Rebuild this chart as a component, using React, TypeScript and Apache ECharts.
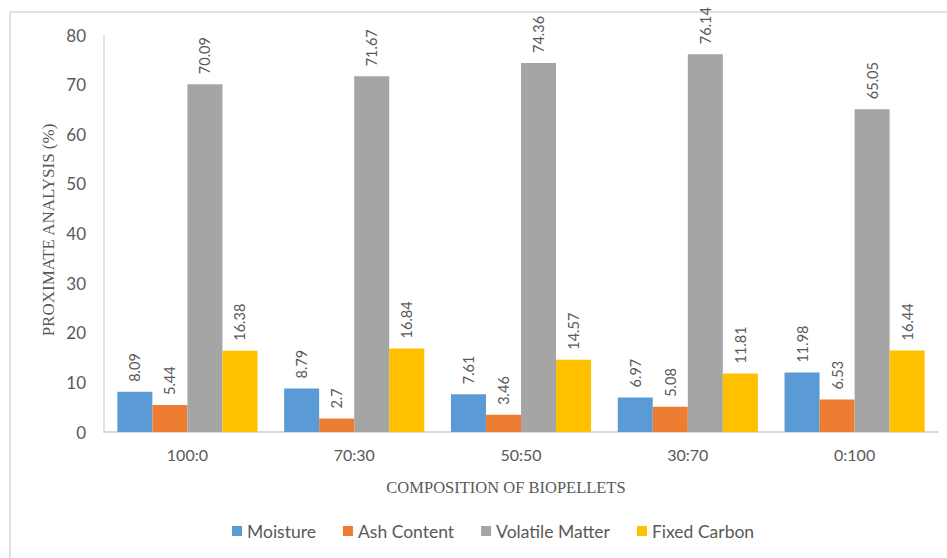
import React, { useEffect, useRef } from "react";
import * as echarts from "echarts";

const categories = ["100:0", "70:30", "50:50", "30:70", "0:100"];
const moisture = [8.09, 8.79, 7.61, 6.97, 11.98];
const ashContent = [5.44, 2.7, 3.46, 5.08, 6.53];
const volatileMatter = [70.09, 71.67, 74.36, 76.14, 65.05];
const fixedCarbon = [16.38, 16.84, 14.57, 11.81, 16.44];
const seriesNames = ["Moisture", "Ash Content", "Volatile Matter", "Fixed Carbon"];
const colors = ["#5B9BD5", "#ED7D31", "#A5A5A5", "#FFC000"];

const FONT = "Lato, 'Open Sans', sans-serif";
const SERIF = "'Liberation Serif', 'DejaVu Serif', serif";
const GRAY = "#595959";

export default function App() {
  const ref = useRef<HTMLDivElement>(null);
  useEffect(() => {
    if (!ref.current) return;
    const chart = echarts.init(ref.current, null, { renderer: "svg" });
    const data = [moisture, ashContent, volatileMatter, fixedCarbon];
    chart.setOption({
      animation: false,
      backgroundColor: "#ffffff",
      textStyle: { fontFamily: FONT },
      graphic: [
        {
          type: "rect",
          shape: { x: 10, y: 12, width: 960, height: 580 },
          style: { fill: "none", stroke: "#d9d9d9", lineWidth: 1.5 },
          silent: true,
        },
        {
          type: "text",
          x: 506,
          y: 487,
          style: {
            text: "COMPOSITION OF BIOPELLETS",
            fontFamily: SERIF,
            fontSize: 16.5,
            fill: GRAY,
            align: "center",
            verticalAlign: "middle",
          },
        },
        {
          type: "text",
          x: 48,
          y: 230,
          rotation: Math.PI / 2,
          style: {
            text: "PROXIMATE ANALYSIS (%)",
            fontFamily: SERIF,
            fontSize: 17,
            fill: GRAY,
            align: "center",
            verticalAlign: "middle",
          },
        },
      ],
      legend: {
        bottom: 13,
        left: 227,
        itemWidth: 10,
        itemHeight: 10,
        itemGap: 27,
        icon: "rect",
        textStyle: { fontFamily: FONT, fontSize: 17.5, color: GRAY },
        data: seriesNames,
      },
      grid: { left: 104, right: 9, top: 35, bottom: 126 },
      xAxis: {
        type: "category",
        data: categories,
        axisLine: { show: true, lineStyle: { color: "#d9d9d9", width: 2 } },
        axisTick: { show: false },
        axisLabel: { color: GRAY, fontSize: 16, margin: 14, fontFamily: FONT },
      },
      yAxis: {
        type: "value",
        min: 0,
        max: 80,
        interval: 10,
        splitLine: { show: false },
        axisLine: { show: true, lineStyle: { color: "#d9d9d9", width: 1.5 } },
        axisTick: { show: false },
        axisLabel: { color: GRAY, fontSize: 17, margin: 18, fontFamily: FONT },
      },
      series: seriesNames.map((name, i) => ({
        name,
        type: "bar",
        data: data[i],
        barGap: "0%",
        barCategoryGap: "16%",
        itemStyle: { color: colors[i] },
        label: {
          show: true,
          position: "top",
          rotate: 90,
          align: "left",
          verticalAlign: "middle",
          distance: 10,
          color: GRAY,
          fontSize: 14.5,
          fontFamily: FONT,
        },
      })),
    });
    return () => chart.dispose();
  }, []);
  return (
    <div
      ref={ref}
      style={{ position: "fixed", left: 0, top: 0, width: 947, height: 558 }}
    />
  );
}
